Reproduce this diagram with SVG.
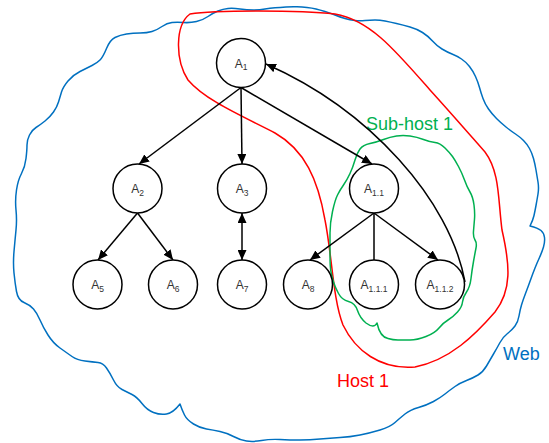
<svg xmlns="http://www.w3.org/2000/svg" width="549" height="443" viewBox="0 0 549 443">
<style>
.region{fill:none;stroke-width:1.5;stroke-linejoin:round}
.edge{fill:none;stroke:#000;stroke-width:1.5}
.node circle{fill:#fff;stroke:#000;stroke-width:1.5}
.node text{font-family:"Liberation Sans",Arial,sans-serif;font-size:12px;fill:#333;text-anchor:middle}
.sub{font-size:8.5px}
.lbl{font-family:"Liberation Sans",Arial,sans-serif;font-size:18px}
</style>
<defs>
<marker id="arr" markerUnits="userSpaceOnUse" markerWidth="10" markerHeight="9" refX="10" refY="4.5" orient="auto-start-reverse">
<path d="M0,0 L10,4.5 L0,9 Z" fill="#000"/>
</marker>
</defs>
<g id="regions">
<path id="web" class="region" stroke="#0070C0" d="M275,7.75 Q280,7.5 286,7 Q292,6.5 297,6.75 Q302,7 307,7.5 Q312,8 316,9 Q320,10 325,11.5 Q330,13 335,15 Q340,17 345,18.5 Q350,20 355,20.5 Q360,21 365,20.5 Q370,20 375,20 Q380,20 385,21 Q390,22 396.5,23.5 Q403,25 410,27 Q417,29 422.5,32.5 Q428,36 432.5,41 Q437,46 442,49 Q447,52 452,54 Q457,56 461.5,59 Q466,62 469.5,66.5 Q473,71 475.5,76.5 Q478,82 479.5,87.5 Q481,93 483,98.5 Q485,104 488.5,109 Q492,114 496.5,118.5 Q501,123 506,127 Q511,131 515.5,134 Q520,137 523.5,140.5 Q527,144 529.5,148.5 Q532,153 533.5,158.5 Q535,164 536,170 Q537,176 538,182 Q539,188 538,194 Q537,200 536,205.5 Q535,211 534,215.5 Q533,220 530,226 Q538,228 541,230.5 Q544,233 544.5,237.5 Q545,242 543.5,247 Q542,252 539.5,257.5 Q537,263 535,268 Q533,273 530.5,280 Q528,287 525.5,293.5 Q523,300 521.5,305 Q520,310 519,316 Q518,322 515,326 Q512,330 507.5,333.5 Q503,337 500,342.5 Q497,348 493.5,354 Q490,360 486.5,366 Q483,372 478,375 Q473,378 466.5,380.5 Q460,383 455,386.5 Q450,390 445,394 Q440,398 433.5,401.5 Q427,405 418.5,407.5 Q410,410 405,414 Q400,418 395,422.5 Q390,427 380,430 Q370,433 360,435 Q350,437 340,437.5 Q330,438 320,439 Q310,440 300,440 Q290,440 280,439.5 Q270,439 261.5,440.5 Q253,442 246.5,441 Q240,440 233.5,436.5 Q227,433 220,431.5 Q213,430 206.5,429 Q200,428 193.5,424 Q187,420 184.5,415 Q182,410 180,404 Q173,413 166.5,414 Q160,415 153.5,412.5 Q147,410 142,403.5 Q137,397 132,394.5 Q127,392 122,389.5 Q117,387 113.5,380 Q110,373 106.5,368 Q103,363 98,362.5 Q93,362 85,361 Q77,360 72,356.5 Q67,353 60,348 Q53,343 48,335 Q43,327 40,320 Q37,313 33.5,309 Q30,305 24,302.5 Q18,300 16.5,291.5 Q15,283 14,273 Q13,263 14,251.5 Q15,240 16,230 Q17,220 16,210 Q15,200 16.5,190 Q18,180 21.5,173.5 Q25,167 26,158.5 Q27,150 27,145 Q27,140 29.5,135 Q32,130 36,127.5 Q40,125 45,121 Q50,117 53.5,112 Q57,107 58.5,102 Q60,97 61.5,92 Q63,87 68,81 Q73,75 80,71.5 Q87,68 92,65.5 Q97,63 100,60 Q103,57 106.5,48.5 Q110,40 115,37.5 Q120,35 126.5,34 Q133,33 140,33 Q147,33 152,31.5 Q157,30 162,26.5 Q167,23 172,22.5 Q177,22 183.5,22.5 Q190,23 196.5,21.5 Q203,20 208,16.5 Q213,13 218,11 Q223,9 228,8.5 Q233,8 240,9 Q247,10 253.5,10 Q260,10 265,9 Q270,8 275,7.75 Z"/>
<path id="host1" class="region" stroke="#FF0000" d="M190,14 C215,10 300,10 335,14 C370,20 395,50 430,90 C450,112 470,135 485,152 C500,172 498,200 502,230 C510,265 512,290 495,312 C475,335 450,360 415,367 C380,370 355,350 343,325 C333,300 332,255 325,220 C318,180 305,150 275,133 C240,115 205,100 188,80 C175,60 175,25 190,14 Z"/>
<path id="subhost1" class="region" stroke="#00B050" d="M370,143.5 Q377,142 383.5,139.5 Q390,137 396.5,136 Q403,135 410,136 Q417,137 423.5,139.5 Q430,142 435,142.5 Q440,143 445,148 Q450,153 452.5,156.5 Q455,160 458.5,166.5 Q462,173 464.5,180 Q467,187 470,192 Q473,197 474,205 Q475,213 474.5,219 Q474,225 473.5,231 Q473,237 475,240 Q477,243 476,248 Q475,253 473.5,261.5 Q472,270 471,278.5 Q470,287 466.5,292 Q463,297 462.5,302 Q462,307 457.5,312 Q453,317 448,320 Q443,323 439,328 Q435,333 426,336.5 Q417,340 410,340 Q403,340 398,340 Q393,340 388,338.5 Q380,337 377,323 Q374,329 366,323 Q360,318 357.5,310.5 Q355,303 348.5,301.5 Q342,300 338.5,293.5 Q335,287 333.5,282 Q332,277 331,272 Q330,267 330,255 Q330,243 330,233 Q330,223 332.5,211.5 Q335,200 337.5,195 Q340,190 343.5,185 Q347,180 350,173.5 Q353,167 355,160 Q357,153 360,149 Q363,145 370,143.5 Z"/>
<text class="lbl" x="366" y="130" fill="#00B050">Sub-host 1</text>
<text class="lbl" x="337" y="387" fill="#FF0000">Host 1</text>
<text class="lbl" x="503" y="360" fill="#0070C0">Web</text>
</g>
<g id="connectors">
<path class="edge" d="M241,87.5 L139,164" marker-end="url(#arr)"/>
<path class="edge" d="M241,87.5 L242,164" marker-end="url(#arr)"/>
<path class="edge" d="M241,87.5 L372,164" marker-end="url(#arr)"/>
<path class="edge" d="M137.5,213 L98,260" marker-end="url(#arr)"/>
<path class="edge" d="M137.5,213 L173,260" marker-end="url(#arr)"/>
<path class="edge" d="M242,213 L242,260" marker-start="url(#arr)" marker-end="url(#arr)"/>
<path class="edge" d="M374,213 L310,260" marker-end="url(#arr)"/>
<path class="edge" d="M374,213 L374,260"/>
<path class="edge" d="M374,213 L438,260" marker-end="url(#arr)"/>
<path class="edge" d="M465,282 C450,200 370,110 266,64" marker-end="url(#arr)"/>
</g>
<g id="A1" class="node"><circle cx="241" cy="63" r="24.5"/><text x="241" y="67.5">A<tspan class="sub" dy="2.5">1</tspan></text></g>
<g id="A2" class="node"><circle cx="137.5" cy="188.5" r="24.5"/><text x="137.5" y="193">A<tspan class="sub" dy="2.5">2</tspan></text></g>
<g id="A3" class="node"><circle cx="242" cy="188.5" r="24.5"/><text x="242" y="193">A<tspan class="sub" dy="2.5">3</tspan></text></g>
<g id="A1.1" class="node"><circle cx="374" cy="188.5" r="24.5"/><text x="374" y="193">A<tspan class="sub" dy="2.5">1.1</tspan></text></g>
<g id="A5" class="node"><circle cx="97.5" cy="284.5" r="24.5"/><text x="97.5" y="289">A<tspan class="sub" dy="2.5">5</tspan></text></g>
<g id="A6" class="node"><circle cx="173" cy="284.5" r="24.5"/><text x="173" y="289">A<tspan class="sub" dy="2.5">6</tspan></text></g>
<g id="A7" class="node"><circle cx="242" cy="284.5" r="24.5"/><text x="242" y="289">A<tspan class="sub" dy="2.5">7</tspan></text></g>
<g id="A8" class="node"><circle cx="308" cy="284.5" r="24.5"/><text x="308" y="289">A<tspan class="sub" dy="2.5">8</tspan></text></g>
<g id="A1.1.1" class="node"><circle cx="374" cy="284.5" r="24.5"/><text x="374" y="289">A<tspan class="sub" dy="2.5">1.1.1</tspan></text></g>
<g id="A1.1.2" class="node"><circle cx="440" cy="284.5" r="24.5"/><text x="440" y="289">A<tspan class="sub" dy="2.5">1.1.2</tspan></text></g>
</svg>
